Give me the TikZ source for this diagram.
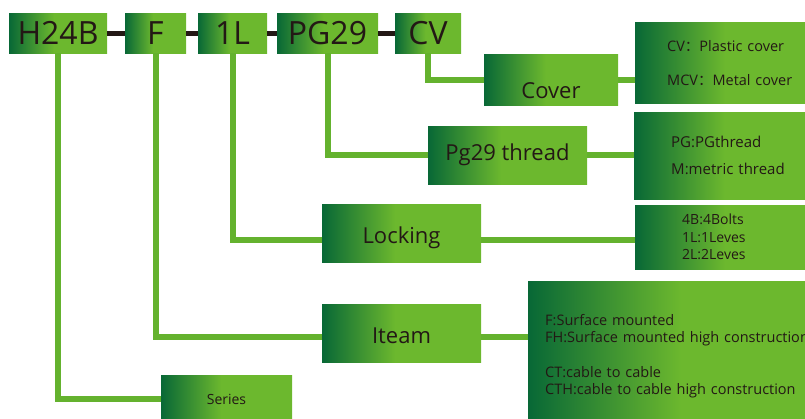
\documentclass[tikz,border=0pt]{standalone}
\usepackage{fontspec}
\setmainfont{Open Sans}
\newfontfamily\cjk{Noto Sans CJK SC}

\definecolor{gdark}{RGB}{8,104,54}
\definecolor{glight}{RGB}{108,184,46}
\definecolor{gline}{RGB}{100,178,46}
\definecolor{ink}{RGB}{35,24,21}
\pgfdeclarehorizontalshading{greenfade}{100bp}{color(0bp)=(gdark); color(25bp)=(gdark); color(48bp)=(glight); color(100bp)=(glight)}

\begin{document}
\begin{tikzpicture}[x=1pt, y=-1pt,
  code/.style={shading=greenfade, inner sep=0pt, minimum height=40pt, text=ink, font=\fontsize{32}{35}\selectfont},
  part/.style={shading=greenfade, inner sep=0pt, minimum width=159pt, minimum height=58pt, text=ink, font=\fontsize{22}{25}\selectfont},
  option/.style={shading=greenfade, anchor=north west, inner ysep=0pt, align=left, text=ink, font=\fontsize{14.5}{17}\selectfont},
  codelink/.style={line width=5pt, ink},
  wire/.style={line width=6pt, gline}
]
\useasboundingbox (0,0) rectangle (805,418);
\clip (0,0) rectangle (805,418);

% code row
\node[code, minimum width=98pt] (h24b) at (58,33) {H24B};
\node[code, minimum width=61pt] (f) at (155.5,33) {F};
\node[code, minimum width=69pt] (onel) at (232.5,33) {1L};
\node[code, minimum width=101pt] (pg29) at (327.5,33) {PG29};
\node[code, minimum width=66pt] (cv) at (428,33) {CV};

% meaning of each part
\node[part, minimum width=134pt, minimum height=0pt, text height=44pt, text depth=7pt] (cover) at (551,79.5) {Cover};
\node[part] (thread) at (507.5,155) {Pg29 thread};
\node[part, text height=20pt, text depth=0pt] (locking) at (401.5,233) {Locking};
\node[part, text height=20pt, text depth=0pt] (iteam) at (401.5,333) {Iteam};
\node[part, minimum width=131pt, minimum height=48pt, font=\fontsize{14}{17}\selectfont] (series) at (226.5,399) {Series};

% options
\node[option, minimum width=195pt, minimum height=81pt, inner xsep=32pt, text width=131pt, font=\fontsize{14.5}{18}\selectfont] (coveropt) at (635,22)
  {CV{\cjk ：}Plastic cover\\[16pt]MCV{\cjk ：}Metal cover};
\node[option, minimum width=196pt, minimum height=87pt, inner xsep=37pt, text width=122pt, font=\fontsize{15}{18}\selectfont] (threadopt) at (634,112)
  {PG:PGthread\\[9pt]M:metric thread};
\node[option, minimum width=195pt, minimum height=64pt, inner xsep=47pt, text width=101pt, font=\fontsize{14}{17.5}\selectfont] (lockopt) at (635,205)
  {4B:4Bolts\\1L:1Leves\\2L:2Leves};
\node[option, minimum width=332pt, minimum height=150pt, inner xsep=17pt, text width=298pt] (iteamopt) at (528,281)
  {F:Surface mounted\\FH:Surface mounted high construction\\[18pt]CT:cable to cable\\CTH:cable to cable high construction};

\draw[codelink] (h24b) -- (f);
\draw[codelink] (f) -- (onel);
\draw[codelink] (onel) -- (pg29);
\draw[codelink] (pg29) -- (cv);

\draw[wire] (cv.south) |- (cover.west);
\draw[wire] (cover.east) -- (cover.east -| coveropt.west);
\draw[wire] (pg29.south) |- (thread.west);
\draw[wire] (thread.east) -- (thread.east -| threadopt.west);
\draw[wire] (onel.south) |- ([yshift=-7pt]locking.west);
\draw[wire] ([yshift=-7pt]locking.east) -- ([yshift=-7pt]locking.east -| lockopt.west);
\draw[wire] (f.south) |- ([yshift=-4pt]iteam.west);
\draw[wire] ([yshift=-4pt]iteam.east) -- ([yshift=-4pt]iteam.east -| iteamopt.west);
\draw[wire] (h24b.south) |- (series.west);
\end{tikzpicture}
\end{document}
